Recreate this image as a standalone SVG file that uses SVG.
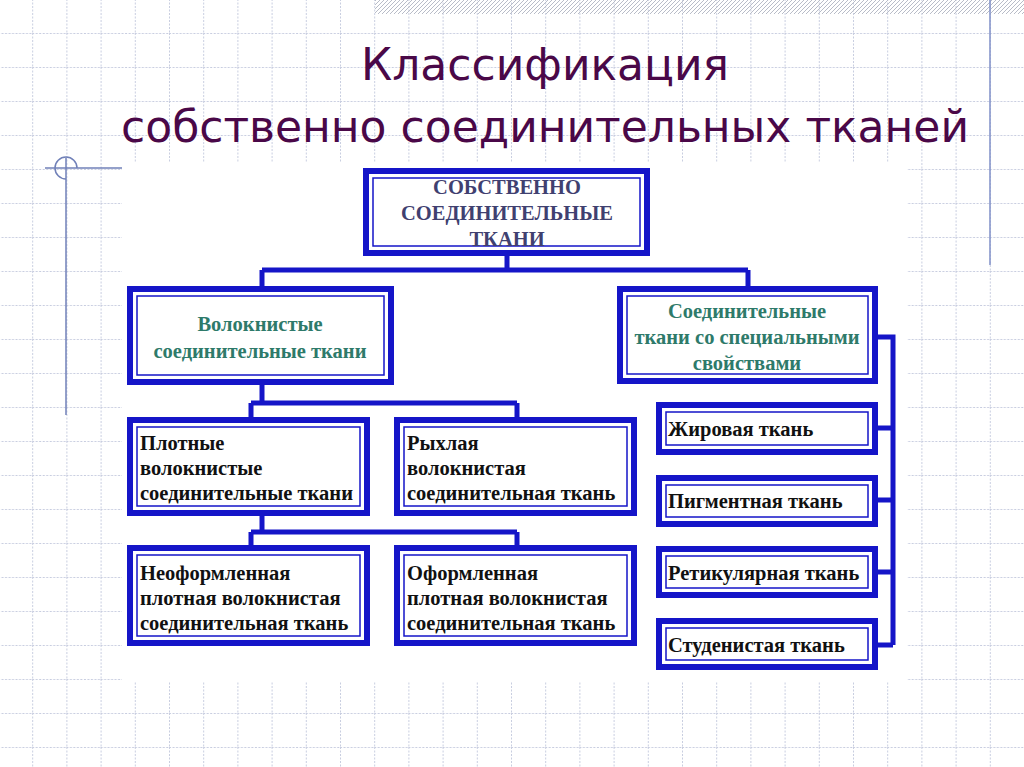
<svg xmlns="http://www.w3.org/2000/svg" width="1024" height="767" viewBox="0 0 1024 767">
<defs>
<pattern id="grid" width="34.2" height="34" patternUnits="userSpaceOnUse" x="-2" y="-1">
<path d="M0 0.5H34.2M0.5 0V34" fill="none" stroke="#c8cde0" stroke-width="1" stroke-dasharray="2 1.5"/>
</pattern>
<pattern id="hatch" width="4" height="4" patternUnits="userSpaceOnUse">
<path d="M0 4L4 0" stroke="#b8bcc8" stroke-width="1"/>
</pattern>
</defs>
<style>
.o{fill:#fff;stroke:#1515c8;stroke-width:6}
.i{fill:none;stroke:#1515c8;stroke-width:1.5}
.t{font-family:"Liberation Serif",serif;font-weight:bold;font-size:20.5px;fill:#111}
.g{fill:#2e7a6a;text-anchor:middle}
.n{fill:#404070;text-anchor:middle}
.c{fill:none;stroke:#1515c8;stroke-width:5}
.ttl{font-family:"DejaVu Sans",sans-serif;font-size:44px;fill:#4a0848;text-anchor:middle}
</style>
<rect width="1024" height="767" fill="#fff"/>
<rect width="1024" height="767" fill="url(#grid)"/>
<rect x="375" y="0" width="649" height="14" fill="url(#hatch)"/>
<line x1="990" y1="0" x2="990" y2="265" stroke="#8090c8" stroke-width="1.5"/>
<line x1="45" y1="168" x2="125" y2="168" stroke="#7080b8" stroke-width="1.5"/>
<line x1="66" y1="158" x2="66" y2="415" stroke="#7080b8" stroke-width="1.5"/>
<path d="M77 168A11 11 0 1 0 66 179" fill="none" stroke="#7080b8" stroke-width="1.5"/>
<text class="ttl" x="545" y="80">Классификация</text>
<text class="ttl" x="545" y="142">собственно соединительных тканей</text>
<rect x="122" y="162" width="785" height="520" fill="#fff"/>
<g id="connectors">
<path class="c" d="M507 256V270M262 270H748M262 270V286M748 270V286"/>
<path class="c" d="M262 385V403M251 403H517M251 403V417M517 403V417"/>
<path class="c" d="M262 516V532M251 532H517M251 532V545M517 532V545"/>
<path class="c" d="M878 337H893V645M878 428H893M878 500H893M878 572H893M878 645H893"/>
</g>
<g id="n0"><rect class="o" x="366" y="171" width="281" height="82"/><rect class="i" x="373" y="178" width="267" height="68"/>
<text class="t n" x="507" y="194">СОБСТВЕННО</text><text class="t n" x="507" y="220">СОЕДИНИТЕЛЬНЫЕ</text><text class="t n" x="507" y="246">ТКАНИ</text></g>
<g id="n1"><rect class="o" x="130" y="289" width="261" height="93"/><rect class="i" x="137" y="296" width="247" height="79"/>
<text class="t g" x="260" y="331">Волокнистые</text><text class="t g" x="260" y="358">соединительные ткани</text></g>
<g id="n2"><rect class="o" x="620" y="289" width="255" height="92"/><rect class="i" x="627" y="296" width="241" height="78"/>
<text class="t g" x="747" y="318">Соединительные</text><text class="t g" x="747" y="344">ткани со специальными</text><text class="t g" x="747" y="370">свойствами</text></g>
<g id="n3"><rect class="o" x="130" y="420" width="237" height="93"/><rect class="i" x="137" y="427" width="223" height="79"/>
<text class="t" x="140" y="450">Плотные</text><text class="t" x="140" y="475">волокнистые</text><text class="t" x="140" y="500">соединительные ткани</text></g>
<g id="n4"><rect class="o" x="397" y="420" width="237" height="93"/><rect class="i" x="404" y="427" width="223" height="79"/>
<text class="t" x="407" y="450">Рыхлая</text><text class="t" x="407" y="475">волокнистая</text><text class="t" x="407" y="500">соединительная ткань</text></g>
<g id="n5"><rect class="o" x="130" y="548" width="237" height="95"/><rect class="i" x="137" y="555" width="223" height="81"/>
<text class="t" x="140" y="580">Неоформленная</text><text class="t" x="140" y="605">плотная волокнистая</text><text class="t" x="140" y="630">соединительная ткань</text></g>
<g id="n6"><rect class="o" x="397" y="548" width="237" height="95"/><rect class="i" x="404" y="555" width="223" height="81"/>
<text class="t" x="407" y="580">Оформленная</text><text class="t" x="407" y="605">плотная волокнистая</text><text class="t" x="407" y="630">соединительная ткань</text></g>
<g id="n7"><rect class="o" x="659" y="405" width="216" height="47"/><rect class="i" x="666" y="412" width="202" height="33"/><text class="t" x="668" y="436">Жировая ткань</text></g>
<g id="n8"><rect class="o" x="659" y="478" width="216" height="46"/><rect class="i" x="666" y="485" width="202" height="32"/><text class="t" x="668" y="508">Пигментная ткань</text></g>
<g id="n9"><rect class="o" x="659" y="549" width="216" height="46"/><rect class="i" x="666" y="556" width="202" height="32"/><text class="t" x="668" y="580">Ретикулярная ткань</text></g>
<g id="n10"><rect class="o" x="659" y="621" width="216" height="46"/><rect class="i" x="666" y="628" width="202" height="32"/><text class="t" x="668" y="652">Студенистая ткань</text></g>
</svg>
